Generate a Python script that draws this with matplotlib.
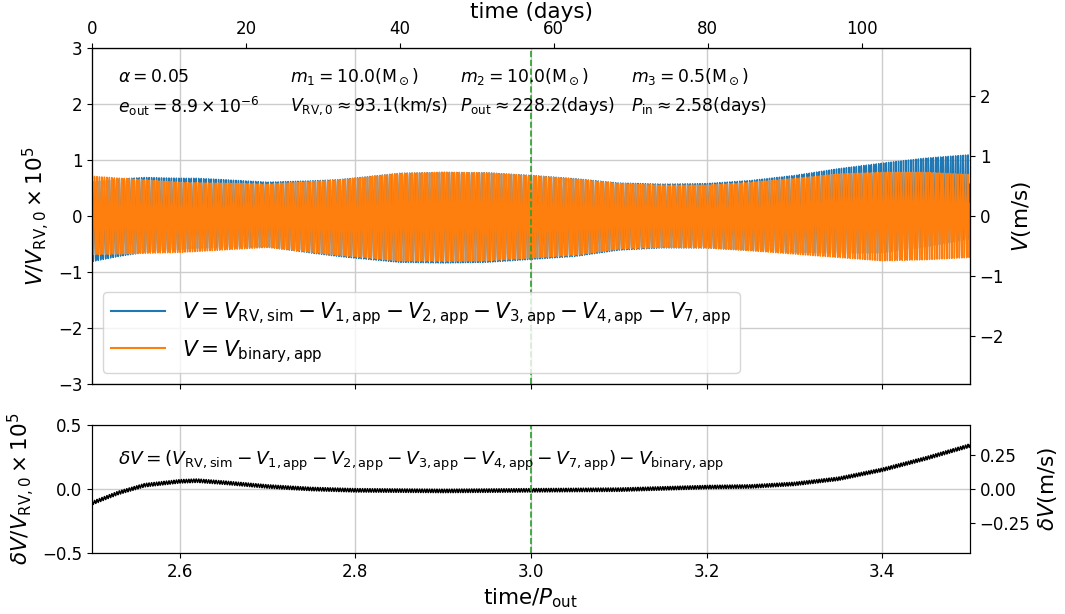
import matplotlib
matplotlib.use('Agg')
import matplotlib.pyplot as plt
import numpy as np

# system parameters (from the annotation text)
P_out = 228.2      # days
P_in = 2.58        # days
V_rv0 = 93.1       # km/s

# envelope of V_binary,app (time/P_out, V/V_RV0 x 1e5)
env_x = [2.5, 2.6, 2.7, 2.78, 2.85, 2.9, 2.95, 3.0, 3.05, 3.1, 3.15, 3.2, 3.25, 3.3, 3.35, 3.4, 3.45, 3.5]
env_top = [0.71, 0.60, 0.57, 0.64, 0.76, 0.78, 0.77, 0.72, 0.66, 0.58, 0.55, 0.55, 0.60, 0.67, 0.75, 0.78, 0.78, 0.74]
env_bot = [-0.69, -0.65, -0.56, -0.70, -0.80, -0.81, -0.80, -0.75, -0.70, -0.59, -0.56, -0.57, -0.62, -0.68, -0.74, -0.80, -0.78, -0.74]

# residual dV (smooth part)
dv_x = [2.5, 2.53, 2.56, 2.6, 2.62, 2.65, 2.7, 2.75, 2.8, 2.9, 3.0, 3.1, 3.2, 3.25, 3.3, 3.35, 3.4, 3.45, 3.5]
dv_val = [-0.11, -0.03, 0.03, 0.06, 0.065, 0.05, 0.02, 0.0, -0.01, -0.015, -0.01, -0.005, 0.015, 0.02, 0.04, 0.08, 0.15, 0.24, 0.34]
dv_wiggle = 0.014

# visible carrier period (about P_in / 4)
carrier_period = P_in / 4

t = np.linspace(2.5, 3.5, 24000)
days = (t - 2.5) * P_out
top = np.interp(t, env_x, env_top)
bot = np.interp(t, env_x, env_bot)
phase = np.cos(2 * np.pi * days / carrier_period)
v_bin = 0.5 * (top + bot) + 0.5 * (top - bot) * phase
dv = np.interp(t, dv_x, dv_val) + dv_wiggle * phase
v_sim = v_bin + dv

scale = V_rv0 * 1e3 * 1e-5  # m/s per unit

fig = plt.figure(figsize=(10.65, 6.14), dpi=100)
ax1 = fig.add_axes([0.0864, 0.3746, 0.8244, 0.5472])
ax2 = fig.add_axes([0.0864, 0.0993, 0.8244, 0.2085])

ax1.plot(t, v_sim, color='tab:blue', lw=1.1,
         label=r'$V=V_{\rm RV,sim}-V_{1,\rm app}-V_{2,\rm app}-V_{3,\rm app}-V_{4,\rm app}-V_{7,\rm app}$')
ax1.plot(t, v_bin, color='tab:orange', lw=1.1, label=r'$V=V_{\rm binary,app}$')
ax1.axvline(3.0, color='tab:green', ls='--', lw=1.2)
ax1.set_xlim(2.5, 3.5)
ax1.set_ylim(-3, 3)
ax1.set_xticks([2.6, 2.8, 3.0, 3.2, 3.4])
ax1.set_xticklabels([])
ax1.set_yticks([-3, -2, -1, 0, 1, 2, 3])
ax1.grid(True, color='#cccccc', lw=1)
ax1.tick_params(labelsize=12)
ax1.set_ylabel(r'$V/V_{\rm RV,0}\times10^5$', fontsize=15.5)
leg = ax1.legend(loc='lower left', fontsize=15.5, handlelength=2.5)
for h in leg.get_lines():
    h.set_linewidth(1.5)

txt = dict(transform=ax1.transAxes, fontsize=12.4, va='center')
ax1.text(0.03, 0.914, r'$\alpha=0.05$', **txt)
ax1.text(0.2255, 0.914, r'$m_1=10.0(\mathrm{M}_\odot)$', **txt)
ax1.text(0.419, 0.914, r'$m_2=10.0(\mathrm{M}_\odot)$', **txt)
ax1.text(0.614, 0.914, r'$m_3=0.5(\mathrm{M}_\odot)$', **txt)
ax1.text(0.03, 0.827, r'$e_{\rm out}=8.9\times10^{-6}$', **txt)
ax1.text(0.2255, 0.827, r'$V_{\rm RV,0}\approx93.1(\rm km/s)$', **txt)
ax1.text(0.419, 0.827, r'$P_{\rm out}\approx228.2(\rm days)$', **txt)
ax1.text(0.614, 0.827, r'$P_{\rm in}\approx2.58(\rm days)$', **txt)

ax1r = ax1.twinx()
ax1r.set_ylim(-3 * scale, 3 * scale)
ax1r.set_yticks([-2, -1, 0, 1, 2])
ax1r.tick_params(labelsize=12)
ax1r.set_ylabel(r'$V$(m/s)', fontsize=15.5)

ax1t = ax1.twiny()
ax1t.set_xlim(0, P_out / 2)
ax1t.set_xticks([0, 20, 40, 60, 80, 100])
ax1t.tick_params(labelsize=12)
ax1t.set_xlabel('time (days)', fontsize=15.5, labelpad=2)

ax2.plot(t, dv, color='black', lw=1.0)
ax2.axvline(3.0, color='tab:green', ls='--', lw=1.2)
ax2.set_xlim(2.5, 3.5)
ax2.set_ylim(-0.5, 0.5)
ax2.set_xticks([2.6, 2.8, 3.0, 3.2, 3.4])
ax2.set_yticks([-0.5, 0.0, 0.5])
ax2.grid(True, color='#cccccc', lw=1)
ax2.tick_params(labelsize=12)
ax2.set_xlabel(r'time/$P_{\rm out}$', fontsize=15.5)
ax2.set_ylabel(r'$\delta V/V_{\rm RV,0}\times10^5$', fontsize=15.5)
ax2.text(0.03, 0.72,
         r'$\delta V=(V_{\rm RV,sim}-V_{1,\rm app}-V_{2,\rm app}-V_{3,\rm app}-V_{4,\rm app}-V_{7,\rm app})-V_{\rm binary,app}$',
         transform=ax2.transAxes, fontsize=13.3, va='center')

ax2r = ax2.twinx()
ax2r.set_ylim(-0.5 * scale, 0.5 * scale)
ax2r.set_yticks([-0.25, 0.0, 0.25])
ax2r.tick_params(labelsize=12)
ax2r.set_ylabel(r'$\delta V$(m/s)', fontsize=15.5)

fig.savefig('out.png', dpi=100)
